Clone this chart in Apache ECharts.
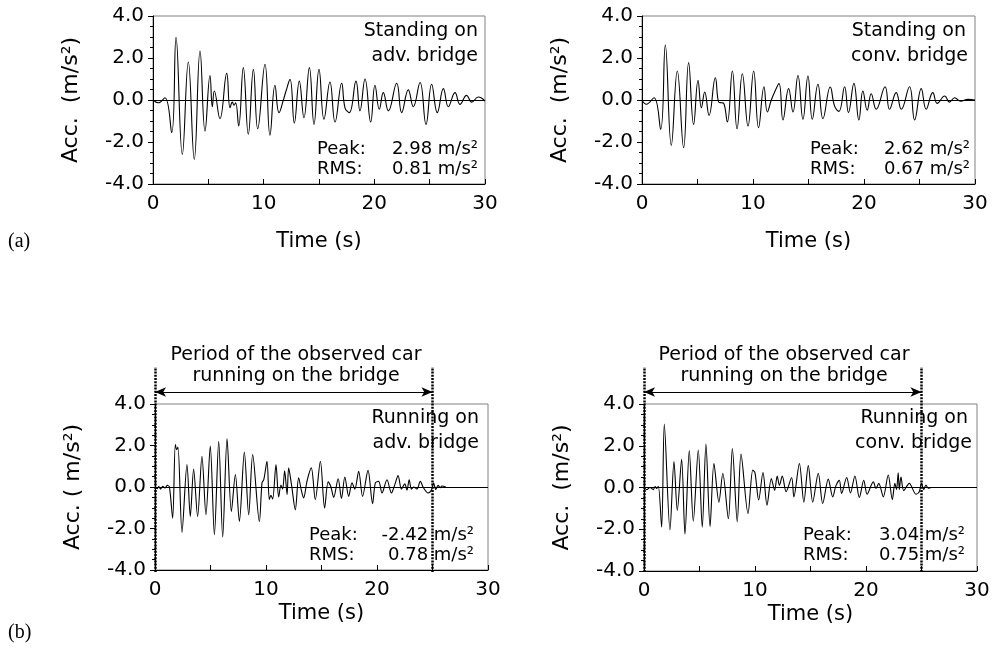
<!DOCTYPE html>
<html>
<head>
<meta charset="utf-8">
<script src="https://cdn.jsdelivr.net/npm/echarts@6/dist/echarts.min.js"></script>
<style>html,body{margin:0;padding:0;background:#fff}#c{width:995px;height:653px}</style>
</head>
<body>
<div id="c"></div>
<script>
// ---------------- data ----------------
const xTicks = [0, 10, 20, 30];
const yTicks = [-4.0, -2.0, 0.0, 2.0, 4.0];

// (a) standing on advanced bridge
const standAdvT = [0,0.48,1.08,1.69,2.08,2.65,3.19,3.73,4.25,4.7,5.15,5.36,5.54,6.05,6.66,6.96,7.17,7.32,7.47,7.74,8.16,8.61,9.07,9.46,10.12,10.57,11.02,11.39,11.78,12.02,12.38,12.77,13.22,13.64,14.13,14.55,15.0,15.45,15.99,16.45,17.05,17.35,17.74,18.34,18.7,19.16,19.67,20.06,20.45,20.81,21.27,22.02,22.47,23.07,23.52,24.13,24.67,25.18,25.69,26.24,26.69,27.29,27.74,28.34,28.8,29.4,30];
const standAdvA = [0,-0.13,0.11,-1.56,2.98,-2.59,1.81,-2.83,2.33,-1.48,1.17,-0.32,0.43,-0.89,1.27,-0.37,-0.1,-0.25,-0.13,-1.24,1.54,-1.63,1.46,-1.37,1.7,-1.68,0.7,-0.6,0,0.43,0.98,-1.1,0.9,-0.84,1.54,-1.16,1.46,-0.92,0.86,-1.05,0.8,-0.37,-0.6,0.9,-0.52,1.0,-1.05,0.7,-0.44,0.35,-0.52,0.8,-0.6,0.48,-0.32,0.83,-1.16,0.75,-0.6,0.54,-0.32,0.35,-0.21,0.22,-0.1,0.14,-0.05];

// (a) standing on conventional bridge
const standConvT = [0,0.39,1.08,1.68,2.1,2.64,3.18,3.75,4.2,4.65,5.05,5.35,5.65,6.04,6.61,6.91,7.15,7.35,7.69,8.14,8.56,9.04,9.55,10.06,10.5,10.99,11.29,11.65,11.95,12.34,12.7,13.21,13.6,14.05,14.5,14.95,15.34,15.85,16.3,16.96,17.35,17.74,18.25,18.6,19.09,19.54,19.9,20.29,20.65,21.1,21.9,22.3,22.9,23.36,24.1,24.56,25.16,25.6,26.2,26.6,27.27,27.7,28.17,28.7,29.37,30];
const standConvA = [0,-0.2,0.11,-1.4,2.62,-2.16,1.38,-2.27,1.78,-1.16,0.94,-0.37,0.38,-0.73,1.06,-0.1,-0.13,-0.15,-1.05,1.38,-1.37,1.25,-1.24,1.38,-1.32,0.63,-0.57,0,0.38,0.78,-0.95,0.54,-0.57,1.17,-0.92,1.14,-0.92,0.75,-0.89,0.62,-0.29,-0.54,0.63,-0.6,0.79,-0.95,0.43,-0.48,0.3,-0.44,0.63,-0.44,0.35,-0.44,0.63,-0.95,0.54,-0.44,0.35,-0.16,0.19,-0.1,0.11,-0.06,0.03,0];

// (b) running on advanced bridge
const runAdvT = [0,0.2,0.35,0.5,0.7,0.9,1.1,1.3,1.59,1.83,1.95,2.07,2.43,2.88,3.18,3.48,3.84,4.23,4.59,4.98,5.35,5.74,6.1,6.49,6.88,7.24,7.6,8.05,8.44,8.8,9.4,9.64,9.8,10.09,10.3,10.45,10.6,10.9,11.14,11.35,11.5,11.68,11.9,12.04,12.3,12.64,12.94,13.2,13.39,13.7,14.08,14.44,14.9,15.28,15.6,15.85,16.1,16.5,16.8,17.1,17.45,17.75,18.0,18.35,18.7,19.19,19.6,19.85,20.15,20.45,20.9,21.3,21.6,21.9,22.2,22.5,22.7,22.9,23.1,23.3,23.6,23.9,24.2,24.6,24.9,25.1,25.3,25.5,25.7,25.85,26.2];
const runAdvA = [0,-0.08,0.02,-0.1,0.03,-0.05,0.08,0,-1.5,2.05,1.8,1.92,-2.19,1.08,-1.42,0.87,-1.42,1.48,-1.34,1.97,-2.3,2.2,-2.42,2.32,-1.18,0.6,-1.66,1.68,-1.34,1.56,-1.66,0.2,0.35,1.24,-0.6,-0.4,-0.58,1.08,-0.48,0.1,-0.1,0.78,-0.37,0.92,0.1,-1.1,0.44,-0.2,-0.53,0.3,0.92,-0.61,1.24,-1.02,0.25,0,-0.5,0.4,-0.55,0.48,-0.45,0.2,-0.1,0.76,-0.45,0.8,-0.8,0.2,0.27,-0.29,0.35,-0.29,0.1,0.55,-0.1,0.15,-0.15,0.35,-0.1,0,-0.1,0.27,-0.05,-0.29,-0.15,0.19,-0.12,0.08,-0.03,0.05,0];

// (b) running on conventional bridge
const runConvT = [0,0.24,0.54,0.84,1.0,1.14,1.29,1.59,1.83,2.34,2.7,3.0,3.39,3.69,4.08,4.44,4.89,5.25,5.58,5.95,6.3,6.75,7.1,7.6,7.96,8.4,8.74,9.37,9.8,10.0,10.33,10.72,11.08,11.47,11.77,12.0,12.2,12.46,12.8,13.3,13.5,14.0,14.4,14.8,15.2,15.7,16.1,16.6,17.0,17.3,17.6,17.8,18.26,18.6,19.0,19.4,19.8,20.1,20.66,20.9,21.15,21.56,22.0,22.37,22.6,22.75,22.9,23.0,23.15,23.4,23.9,24.5,24.8,25.0,25.2,25.4,25.6,25.9,26.3];
const runConvA = [0,-0.1,0,-0.1,0.05,-0.04,0.06,-1.9,3.04,-2.03,1.24,-1.1,1.35,-2.23,1.77,-1.61,1.8,-1.9,2.08,-1.87,1.15,-0.7,0.68,-1.5,1.87,-1.65,1.6,-1.25,0.83,0.7,-0.6,0.72,-0.85,0.43,-0.13,0.55,0.1,0.55,-0.2,0.48,-0.45,1.15,-0.7,1.05,-0.7,0.68,-0.77,0.4,-0.45,0.1,0.35,-0.29,0.48,-0.26,0.55,-0.48,0.35,-0.32,0.27,-0.05,0.2,-0.45,0.6,-0.58,0.2,-0.1,0.7,-0.1,0.5,-0.15,0.2,-0.32,-0.2,0.2,-0.1,0.12,-0.03,0,0];

const panelTitles = [['Standing on','adv. bridge'],['Standing on','conv. bridge'],['Running on','adv. bridge'],['Running on','conv. bridge']];
const peakValues = ['2.98','2.62','-2.42','3.04'];
const rmsValues = ['0.81','0.67','0.78','0.75'];
const yNames = ['Acc.  (m/s\u00b2)','Acc.  (m/s\u00b2)','Acc. ( m/s\u00b2)','Acc.  (m/s\u00b2)'];
const periodStart = 0, periodEnd = 25;

// ---------------- chart ----------------
const FF = '"DejaVu Sans", Verdana, sans-serif';
const pairs = (t, a) => t.map((x, i) => [x, a[i]]);
const seriesData = [pairs(standAdvT, standAdvA), pairs(standConvT, standConvA), pairs(runAdvT, runAdvA), pairs(runConvT, runConvA)];

const grids = [
  {left:153, top:16, width:332, height:168},
  {left:642, top:16, width:333, height:168},
  {left:155, top:404, width:333, height:166},
  {left:644, top:404, width:333, height:167},
  {left:155, top:367, width:333, height:205},
  {left:644, top:367, width:333, height:205}
].map((g, i) => Object.assign({show: i < 4, borderColor: '#808080', borderWidth: 1, backgroundColor: 'transparent'}, g));

const xAxes = [], yAxes = [], series = [];
for (let i = 0; i < 4; i++) {
  const bottomRow = i >= 2;
  xAxes.push({
    type: 'value', gridIndex: i, min: xTicks[0], max: xTicks[xTicks.length-1], interval: 10,
    axisLine: {onZero: false, lineStyle: {color: '#000', width: 1}},
    axisTick: {inside: true, length: 5, lineStyle: {color: '#000'}},
    minorTick: {show: true, splitNumber: 2, length: 5, lineStyle: {color: '#000'}},
    splitLine: {show: false},
    axisLabel: {color: '#000', fontSize: 20, fontFamily: FF, margin: 10},
    name: 'Time (s)', nameLocation: 'middle', nameGap: bottomRow ? 33 : 47,
    nameTextStyle: {color: '#000', fontSize: 21, fontFamily: FF}
  });
  yAxes.push({
    type: 'value', gridIndex: i, min: yTicks[0], max: yTicks[yTicks.length-1], interval: 2,
    axisLine: {lineStyle: {color: '#000', width: 1}},
    axisTick: {inside: false, length: 5, lineStyle: {color: '#000'}},
    minorTick: {show: true, splitNumber: 4, length: 3, lineStyle: {color: '#000'}},
    splitLine: {show: false},
    axisLabel: {color: '#000', fontSize: 20, fontFamily: FF, margin: 9, formatter: v => v.toFixed(1)},
    name: yNames[i], nameLocation: 'middle', nameRotate: 90, nameGap: 71,
    nameTextStyle: {color: '#000', fontSize: 22, fontFamily: FF}
  });
  series.push({
    type: 'line', xAxisIndex: i, yAxisIndex: i, data: seriesData[i],
    showSymbol: false, smooth: bottomRow ? 0.3 : 0.45,
    lineStyle: {color: '#000', width: 1.1}, animation: false,
    markLine: {silent: true, symbol: 'none', animation: false, label: {show: false},
      lineStyle: {color: '#000', width: 1, type: 'solid'}, data: [{yAxis: 0}]}
  });
}
for (let k = 0; k < 2; k++) {
  const gi = 4 + k;
  xAxes.push({type: 'value', gridIndex: gi, min: 0, max: 30, show: false});
  yAxes.push({type: 'value', gridIndex: gi, min: 0, max: 205, show: false});
  series.push({
    type: 'line', xAxisIndex: gi, yAxisIndex: gi, data: [[periodStart, 0]], showSymbol: false, animation: false,
    lineStyle: {width: 0},
    markLine: {silent: true, animation: false, label: {show: false}, symbol: 'none',
      data: [
        {xAxis: periodStart, lineStyle: {color: '#000', width: 2.5, type: [2, 1.2]}},
        {xAxis: periodEnd, lineStyle: {color: '#000', width: 2.5, type: [2, 1.2]}},
        [{coord: [periodStart, 180], symbol: 'arrow', symbolSize: [7, 11], lineStyle: {color: '#000', width: 1, type: 'solid'}},
         {coord: [periodEnd, 180], symbol: 'arrow', symbolSize: [7, 11]}]
      ]}
  });
}

const txt = (x, y, text, align, size, family) => ({
  type: 'text', x: x, y: y, silent: true,
  style: {text: text, align: align, verticalAlign: 'middle', fill: '#000',
    font: (size || 18) + 'px ' + (family || FF)}
});

const graphics = [];
const annot = [
  {r1: 478, r2: 478, y1: 31, y2: 56, pl: 317, pr: 478, py: 149, ry: 169},
  {r1: 966, r2: 968, y1: 31, y2: 56, pl: 810, pr: 970, py: 149, ry: 169},
  {r1: 479, r2: 479, y1: 418, y2: 443, pl: 309, pr: 474, py: 535, ry: 555},
  {r1: 968, r2: 972, y1: 418, y2: 443, pl: 803, pr: 965, py: 535, ry: 555}
];
annot.forEach((p, i) => {
  graphics.push(txt(p.r1, p.y1, panelTitles[i][0], 'right', 19));
  graphics.push(txt(p.r2, p.y2, panelTitles[i][1], 'right', 19));
  graphics.push(txt(p.pl, p.py, 'Peak:', 'left', 18));
  graphics.push(txt(p.pr, p.py, peakValues[i] + ' m/s\u00b2', 'right', 18));
  graphics.push(txt(p.pl, p.ry, 'RMS:', 'left', 18));
  graphics.push(txt(p.pr, p.ry, rmsValues[i] + ' m/s\u00b2', 'right', 18));
});
[296, 784].forEach(cx => {
  graphics.push(txt(cx, 355, 'Period of the observed car', 'center', 19));
  graphics.push(txt(cx, 376, 'running on the bridge', 'center', 19));
});
graphics.push(txt(8, 242, '(a)', 'left', 20, '"Liberation Serif", "Times New Roman", serif'));
graphics.push(txt(8, 633, '(b)', 'left', 20, '"Liberation Serif", "Times New Roman", serif'));

const chart = echarts.init(document.getElementById('c'), null, {renderer: 'canvas'});
chart.setOption({
  animation: false,
  backgroundColor: '#fff',
  grid: grids, xAxis: xAxes, yAxis: yAxes, series: series, graphic: graphics
});
</script>
</body>
</html>
